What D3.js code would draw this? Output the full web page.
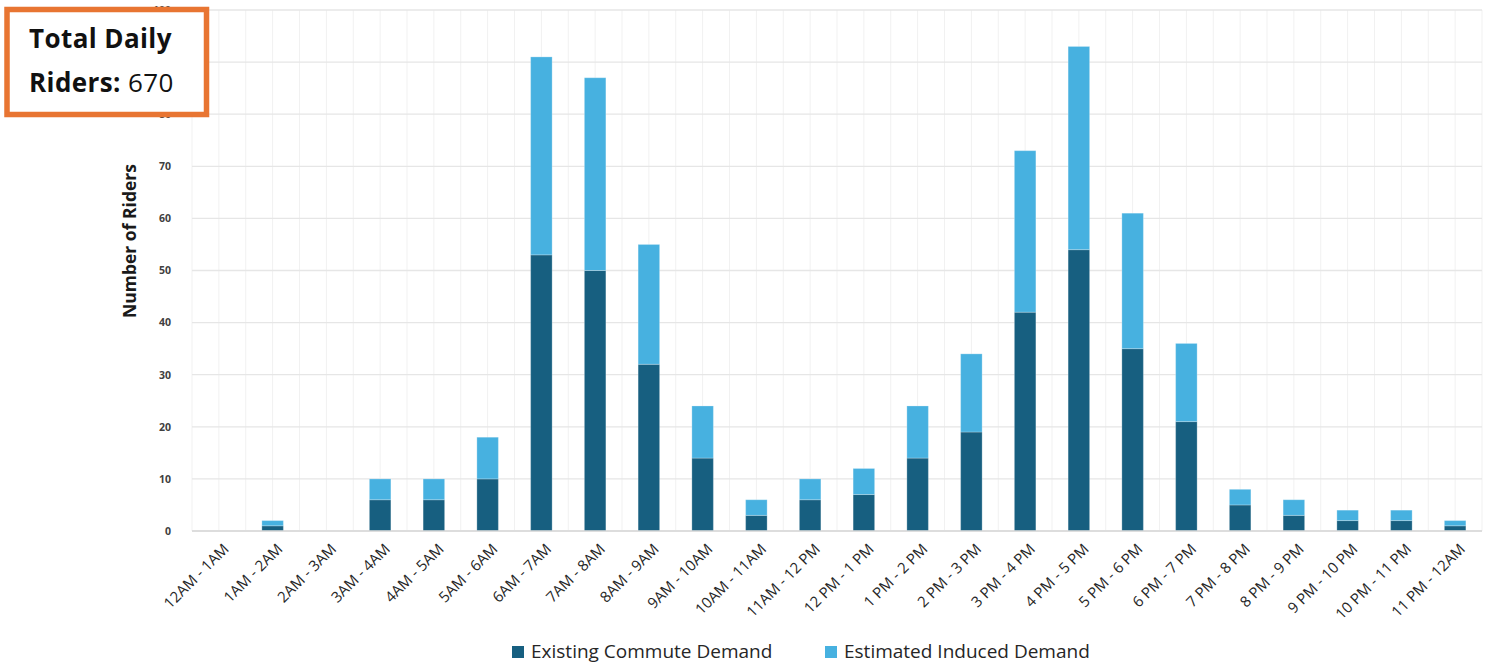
<!DOCTYPE html>
<html>
<head>
<meta charset="utf-8">
<script src="https://cdn.jsdelivr.net/npm/d3@7"></script>
<style>
  html, body { margin: 0; padding: 0; background: #ffffff; }
  svg { display: block; }
</style>
</head>
<body>
<svg id="chart" width="1494" height="664"></svg>
<script>
// Hourly ridership, split into existing commute demand and estimated induced demand
const hours = [
  "12AM - 1AM", "1AM - 2AM", "2AM - 3AM", "3AM - 4AM", "4AM - 5AM", "5AM - 6AM",
  "6AM - 7AM", "7AM - 8AM", "8AM - 9AM", "9AM - 10AM", "10AM - 11AM", "11AM - 12 PM",
  "12 PM - 1 PM", "1 PM - 2 PM", "2 PM - 3 PM", "3 PM - 4 PM", "4 PM - 5 PM", "5 PM - 6 PM",
  "6 PM - 7 PM", "7 PM - 8 PM", "8 PM - 9 PM", "9 PM - 10 PM", "10 PM - 11 PM", "11 PM - 12AM"
];
const existingCommute = [0, 1, 0, 6, 6, 10, 53, 50, 32, 14, 3, 6, 7, 14, 19, 42, 54, 35, 21, 5, 3, 2, 2, 1];
const inducedDemand   = [0, 1, 0, 4, 4, 8, 38, 37, 23, 10, 3, 4, 5, 10, 15, 31, 39, 26, 15, 3, 3, 2, 2, 1];
const yTicks = [0, 10, 20, 30, 40, 50, 60, 70, 80, 90, 100];
const seriesNames = ["Existing Commute Demand", "Estimated Induced Demand"];
const seriesColors = ["#175f80", "#47b1e0"];
const totalRiders = 670;

const svg = d3.select("#chart");
const plot = { left: 192, right: 1482, top: 10, bottom: 531 };

const x = d3.scaleBand().domain(hours).range([plot.left, plot.right]).paddingInner(0.6).paddingOuter(0.3);
const y = d3.scaleLinear().domain([0, 100]).range([plot.bottom, plot.top]);

const step = x.step();
const bandCenter = h => x(h) + x.bandwidth() / 2;

// Vertical grid: one line at each category centre and one at each boundary
const vLines = [];
const firstCenter = bandCenter(hours[0]);
for (let i = 0; i <= hours.length * 2; i++) vLines.push(firstCenter - step / 2 + i * step / 2);
svg.append("g").selectAll("line").data(vLines).join("line")
  .attr("x1", d => d).attr("x2", d => d)
  .attr("y1", plot.top).attr("y2", plot.bottom)
  .attr("stroke", "#f1f1f1").attr("stroke-width", 1);

// Horizontal grid
svg.append("g").selectAll("line").data(yTicks).join("line")
  .attr("x1", plot.left).attr("x2", plot.right)
  .attr("y1", d => y(d)).attr("y2", d => y(d))
  .attr("stroke", "#e6e6e6").attr("stroke-width", 1.3);

// Y axis labels
const yAxis = d3.axisLeft(y).tickValues(yTicks).tickSize(0).tickPadding(0);
const yg = svg.append("g").attr("transform", `translate(${plot.left - 21},0)`).call(yAxis);
yg.select(".domain").remove();
yg.selectAll("text")
  .attr("font-family", "'Open Sans', sans-serif")
  .attr("font-weight", "700")
  .attr("font-size", "10.5px")
  .attr("fill", "#404040");

// Y axis title
svg.append("text")
  .attr("transform", `translate(136,241) rotate(-90)`)
  .attr("text-anchor", "middle")
  .attr("font-family", "'Open Sans', sans-serif")
  .attr("font-weight", "700")
  .attr("font-size", "17.5px")
  .attr("fill", "#1a1a1a")
  .text("Number of Riders");

// Stacked bars
const rows = hours.map((h, i) => ({ hour: h, existing: existingCommute[i], induced: inducedDemand[i] }));
const stack = d3.stack().keys(["existing", "induced"])(rows);
svg.append("g").selectAll("g").data(stack).join("g")
  .attr("fill", (d, i) => seriesColors[i])
  .selectAll("rect").data(d => d.filter(s => s[1] - s[0] > 0)).join("rect")
  .attr("x", d => x(d.data.hour))
  .attr("width", x.bandwidth())
  .attr("y", d => y(d[1]))
  .attr("height", d => y(d[0]) - y(d[1]))
  .attr("stroke", "#ffffff").attr("stroke-opacity", 0.25).attr("stroke-width", 1);

// X axis line and rotated category labels
svg.append("line")
  .attr("x1", plot.left).attr("x2", plot.right)
  .attr("y1", plot.bottom).attr("y2", plot.bottom)
  .attr("stroke", "#d9d9d9").attr("stroke-width", 1.5);

svg.append("g").selectAll("text").data(hours).join("text")
  .attr("transform", h => `translate(${bandCenter(h) + 8},${plot.bottom + 16}) rotate(-45)`)
  .attr("text-anchor", "end")
  .attr("dominant-baseline", "middle")
  .attr("font-family", "'Open Sans', sans-serif")
  .attr("font-size", "15px")
  .attr("fill", "#262626")
  .text(h => h);

// Legend
const legend = svg.append("g");
const legendItems = [{ x: 512 }, { x: 825 }];
legendItems.forEach((item, i) => {
  legend.append("rect")
    .attr("x", item.x).attr("y", 646).attr("width", 12).attr("height", 12)
    .attr("fill", seriesColors[i]);
  legend.append("text")
    .attr("x", item.x + 19).attr("y", 658)
    .attr("font-family", "'Open Sans', sans-serif")
    .attr("font-size", "19px")
    .attr("fill", "#262626")
    .text(seriesNames[i]);
});

// Total riders callout
svg.append("rect")
  .attr("x", 7).attr("y", 9.5).attr("width", 199.5).attr("height", 105)
  .attr("fill", "#ffffff")
  .attr("stroke", "#e87532").attr("stroke-width", 5.5);
svg.append("text")
  .attr("x", 29).attr("y", 48)
  .attr("font-family", "'Open Sans', sans-serif")
  .attr("font-weight", "700")
  .attr("font-size", "26px")
  .attr("letter-spacing", "0.4px")
  .attr("fill", "#111111")
  .text("Total Daily");
const riders = svg.append("text")
  .attr("x", 29).attr("y", 92)
  .attr("font-family", "'Open Sans', sans-serif")
  .attr("font-size", "26px")
  .attr("letter-spacing", "0.4px")
  .attr("fill", "#111111");
riders.append("tspan").attr("font-weight", "700").text("Riders: ");
riders.append("tspan").attr("font-weight", "400").text(totalRiders);
</script>
</body>
</html>
